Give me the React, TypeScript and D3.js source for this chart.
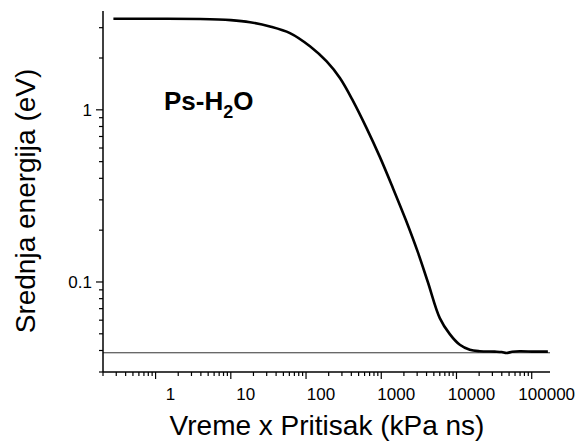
import React from "react";
import * as d3 from "d3";

const WIDTH = 579;
const HEIGHT = 441;

// Curve data: time x pressure (kPa ns) vs mean energy (eV)
const timePressure = [0.275, 1, 3.9, 10, 18, 33.1, 61.1, 112.7, 188, 282, 424, 638, 957, 1426, 2122, 3063, 4159, 6000, 8147, 11070, 15030, 20400, 32200, 40000, 46100, 55000, 69200, 109000, 164000];
const meanEnergy = [3.38, 3.38, 3.37, 3.32, 3.23, 3.05, 2.79, 2.34, 1.91, 1.53, 1.12, 0.783, 0.533, 0.352, 0.229, 0.149, 0.1, 0.0617, 0.0498, 0.0432, 0.0404, 0.0396, 0.0394, 0.0392, 0.0387, 0.0393, 0.0396, 0.0394, 0.0394];

const thermalEnergy = 0.0388;

const xTickValues = [1, 10, 100, 1000, 10000, 100000];
const xTickLabels = ["1", "10", "100", "1000", "10000", "100000"];
const yTickValues = [0.1, 1];
const yTickLabels = ["0.1", "1"];

const xDomain = [0.2, 175000];
const yDomain = [0.03, 3.75];

const FONT = "Liberation Sans, Arial, Helvetica, sans-serif";

export default function App() {
  const left = 103;
  const right = 550;
  const top = 11;
  const bottom = 372;

  const x = d3.scaleLog().domain(xDomain).range([left, right]);
  const y = d3.scaleLog().domain(yDomain).range([bottom, top]);

  const pts = timePressure.map((t, i) => [t, meanEnergy[i]] as [number, number]);
  const line = d3
    .line<[number, number]>()
    .x((d) => x(d[0]))
    .y((d) => y(d[1]))
    .curve(d3.curveCatmullRom.alpha(0.5));

  // minor ticks
  const xMinor: number[] = [];
  for (let e = -1; e <= 5; e++) {
    for (let m = 2; m <= 9; m++) {
      const v = m * Math.pow(10, e);
      if (v >= xDomain[0] && v <= xDomain[1]) xMinor.push(v);
    }
  }
  const yMinor: number[] = [];
  for (let e = -2; e <= 0; e++) {
    for (let m = 2; m <= 9; m++) {
      const v = m * Math.pow(10, e);
      if (v >= yDomain[0] && v <= yDomain[1]) yMinor.push(v);
    }
  }

  return (
    <svg
      width={WIDTH}
      height={HEIGHT}
      style={{ position: "absolute", left: 0, top: 0, background: "#fff" }}
      fontFamily={FONT}
    >
      <rect x={0} y={0} width={WIDTH} height={HEIGHT} fill="#fff" />
      {/* thermal energy line */}
      <line
        x1={left}
        x2={right}
        y1={y(thermalEnergy)}
        y2={y(thermalEnergy)}
        stroke="#333"
        strokeWidth={1}
      />
      {/* curve */}
      <path d={line(pts) || ""} fill="none" stroke="#000" strokeWidth={2.6} strokeLinejoin="round" />

      {/* axes */}
      <line x1={left} x2={left} y1={top} y2={bottom} stroke="#000" strokeWidth={1.5} />
      <line x1={left} x2={right} y1={bottom} y2={bottom} stroke="#000" strokeWidth={1.5} />

      {xMinor.map((v, i) => (
        <line key={"xm" + i} x1={x(v)} x2={x(v)} y1={bottom} y2={bottom + 4} stroke="#000" strokeWidth={1.2} />
      ))}
      {xTickValues.map((v, i) => (
        <g key={"xt" + i}>
          <line x1={x(v)} x2={x(v)} y1={bottom} y2={bottom + 7} stroke="#000" strokeWidth={1.2} />
          <text x={x(v) + 15} y={400} textAnchor="middle" fontSize={17} fill="#000">
            {xTickLabels[i]}
          </text>
        </g>
      ))}

      {yMinor.map((v, i) => (
        <line key={"ym" + i} x1={left - 4} x2={left} y1={y(v)} y2={y(v)} stroke="#000" strokeWidth={1.2} />
      ))}
      {yTickValues.map((v, i) => (
        <g key={"yt" + i}>
          <line x1={left - 7} x2={left} y1={y(v)} y2={y(v)} stroke="#000" strokeWidth={1.2} />
          <text x={92} y={y(v) + 6} textAnchor="end" fontSize={17} fill="#000">
            {yTickLabels[i]}
          </text>
        </g>
      ))}

      {/* axis titles */}
      <text x={327} y={435} textAnchor="middle" fontSize={28} fill="#000">
        Vreme x Pritisak (kPa ns)
      </text>
      <text
        transform={`translate(35, 201) rotate(-90)`}
        textAnchor="middle"
        fontSize={28}
        fill="#000"
      >
        Srednja energija (eV)
      </text>

      {/* annotation */}
      <text x={164} y={110} fontSize={26} fontWeight="bold" fill="#000">
        Ps-H
        <tspan fontSize={18} dy={8}>2</tspan>
        <tspan dy={-8}>O</tspan>
      </text>
    </svg>
  );
}
